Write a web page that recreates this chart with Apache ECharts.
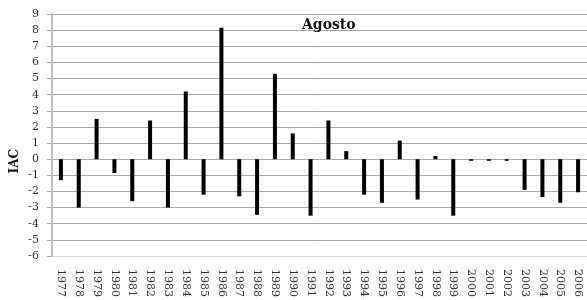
<!DOCTYPE html>
<html>
<head>
<meta charset="utf-8">
<script src="https://cdn.jsdelivr.net/npm/echarts@6/dist/echarts.min.js"></script>
<style>
  html, body { margin: 0; padding: 0; background: #fff; }
  #chart { width: 587px; height: 300px; }
</style>
</head>
<body>
<div id="chart"></div>
<script>
const years = ['1977', '1978', '1979', '1980', '1981', '1982', '1983', '1984', '1985', '1986',
  '1987', '1988', '1989', '1990', '1991', '1992', '1993', '1994', '1995', '1996',
  '1997', '1998', '1999', '2000', '2001', '2002', '2003', '2004', '2005', '2006']
// IAC de agosto
const iacValues = [-1.3, -3.0, 2.5, -0.85, -2.6, 2.4, -3.0, 4.2, -2.2, 8.15,
  -2.3, -3.45, 5.3, 1.6, -3.5, 2.4, 0.5, -2.2, -2.7, 1.15,
  -2.5, 0.2, -3.5, -0.1, -0.1, -0.1, -1.9, -2.35, -2.7, -2.05]
const yMin = -6
const yMax = 9

const font = 'DejaVu Serif'
const chart = echarts.init(document.getElementById('chart'))
chart.setOption({
  animation: false,
  title: {
    text: 'Agosto',
    left: 297,
    top: 13,
    textStyle: { fontFamily: font, fontSize: 14, fontWeight: 'bold', color: '#111' }
  },
  graphic: [{
    type: 'text',
    left: 9,
    top: 149,
    rotation: Math.PI / 2,
    style: { text: 'IAC', font: 'bold 12px "DejaVu Serif"', fill: '#111' }
  }],
  grid: { left: 52, right: -2, top: 14, bottom: 40 },
  xAxis: {
    type: 'category',
    data: years,
    axisLine: { onZero: false, lineStyle: { color: '#d4d4d4' } },
    axisTick: { show: false },
    axisLabel: {
      interval: 0,
      rotate: -90,
      margin: 13,
      fontFamily: font,
      fontSize: 11,
      color: '#333'
    }
  },
  yAxis: {
    type: 'value',
    min: yMin,
    max: yMax,
    interval: 1,
    axisLine: { show: true, lineStyle: { color: '#bdbdbd', width: 2 } },
    axisTick: { show: true, length: 5, lineStyle: { color: '#a6a6a6' } },
    axisLabel: { margin: 13, fontFamily: font, fontSize: 11, color: '#333' },
    splitLine: { lineStyle: { color: '#a8a8a8', width: 1 } }
  },
  series: [{
    type: 'bar',
    data: iacValues,
    barWidth: 4,
    itemStyle: { color: '#000' }
  }]
})
</script>
</body>
</html>
